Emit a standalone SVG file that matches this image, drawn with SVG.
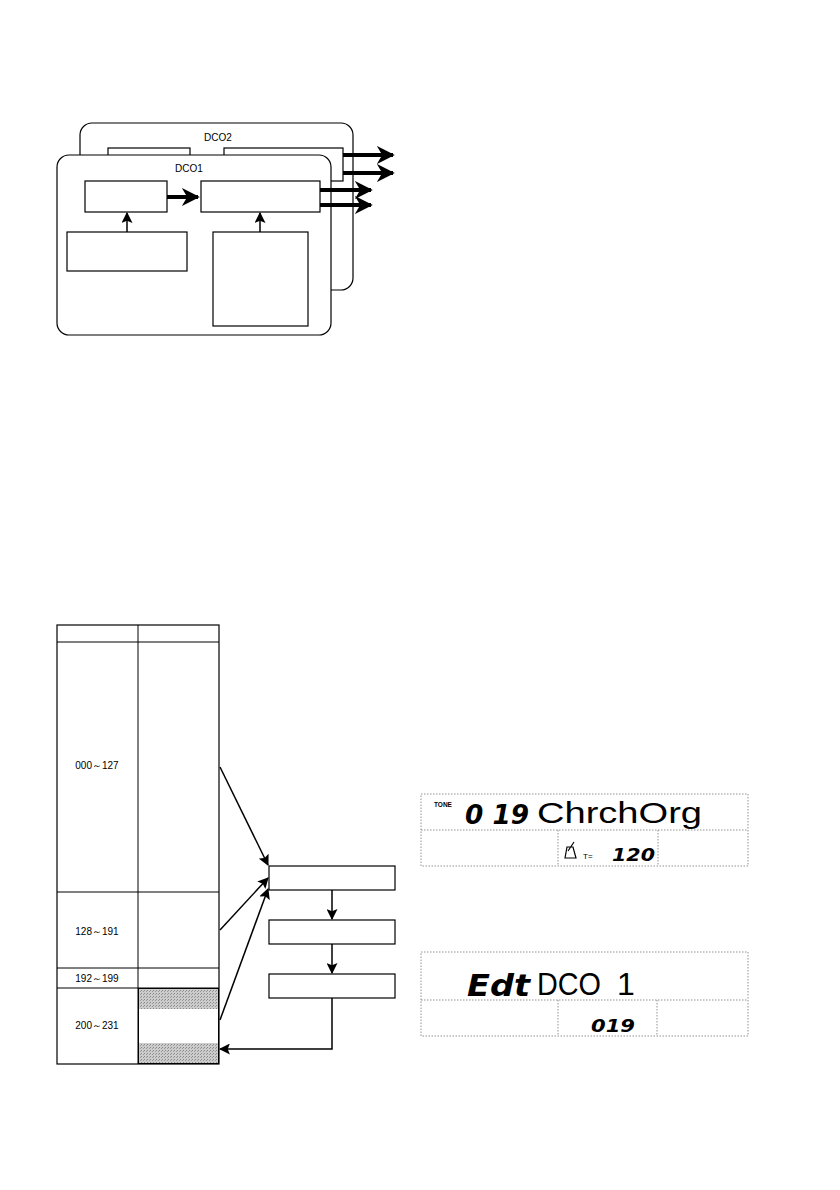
<svg xmlns="http://www.w3.org/2000/svg" width="840" height="1190" viewBox="0 0 840 1190">
<style>
.b{fill:#fff;stroke:#000;stroke-width:1.2}
.t{font-family:"Liberation Sans",Arial,sans-serif;fill:#000}
.l{stroke:#000;stroke-width:1.5;fill:none}
.k{stroke:#000;stroke-width:4;fill:none}
.d{fill:none;stroke:#777;stroke-width:0.8;stroke-dasharray:1.5 1.5}
.seg{font-family:"DejaVu Sans",sans-serif;font-weight:bold;font-style:italic;fill:#000}
.lcd{font-family:"Liberation Sans Narrow","Liberation Sans",sans-serif;fill:#000}
</style>
<defs>
<marker id="a" viewBox="0 0 10 10" refX="9" refY="5" markerWidth="11" markerHeight="11" orient="auto" markerUnits="userSpaceOnUse"><path d="M0,0L10,5L0,10L2,5z"/></marker>
<marker id="h" viewBox="0 0 10 10" refX="9" refY="5" markerWidth="4.5" markerHeight="4.5" orient="auto"><path d="M0,0L10,5L0,10L3,5z"/></marker>
<pattern id="g" width="3" height="3" patternUnits="userSpaceOnUse"><rect width="3" height="3" fill="#ccc"/><rect width="1" height="1" fill="#888"/><rect x="2" y="1" width="1" height="1" fill="#999"/></pattern>
</defs>
<rect width="840" height="1190" fill="#fff"/>
<g id="dco2">
<rect class="b" x="80" y="123" width="273" height="167" rx="12"/>
<text class="t" x="218" y="141" font-size="10" text-anchor="middle">DCO2</text>
<rect class="b" x="108" y="148" width="82" height="30"/>
<rect class="b" x="224" y="148" width="119" height="33"/>
</g>
<g id="dco1">
<rect class="b" x="57" y="155" width="274" height="180" rx="12"/>
<text class="t" x="189" y="172" font-size="10" text-anchor="middle">DCO1</text>
<rect class="b" x="85" y="181" width="82" height="31"/>
<rect class="b" x="201" y="181" width="119" height="31"/>
<rect class="b" x="67" y="232" width="120" height="39"/>
<rect class="b" x="213" y="232" width="95" height="94"/>
</g>
<g id="connectors-top">
<path class="k" d="M343 155H393" marker-end="url(#h)"/>
<path class="k" d="M343 173H393" marker-end="url(#h)"/>
<path class="k" d="M320 190H371" marker-end="url(#h)"/>
<path class="k" d="M320 205H371" marker-end="url(#h)"/>
<path class="k" d="M167 197H198" marker-end="url(#h)"/>
<path class="l" d="M127 232V213" marker-end="url(#a)"/>
<path class="l" d="M260 232V213" marker-end="url(#a)"/>
</g>
<g id="table">
<rect class="b" x="57" y="625" width="162" height="439"/>
<path class="l" style="stroke-width:1" d="M57 642H219M138 625V1064M57 892H219M57 968H219M57 988H219"/>
<rect x="138.5" y="988.5" width="80" height="75" fill="url(#g)" stroke="#000"/>
<rect x="139" y="1009" width="79" height="34" fill="#fff"/>
<text class="t" x="97" y="769" font-size="10" text-anchor="middle">000～127</text>
<text class="t" x="97" y="935" font-size="10" text-anchor="middle">128～191</text>
<text class="t" x="97" y="982" font-size="10" text-anchor="middle">192～199</text>
<text class="t" x="97" y="1029" font-size="10" text-anchor="middle">200～231</text>
</g>
<g id="box1"><rect class="b" x="269" y="866" width="126" height="24"/></g>
<g id="box2"><rect class="b" x="269" y="920" width="126" height="24"/></g>
<g id="box3"><rect class="b" x="269" y="974" width="126" height="24"/></g>
<g id="connectors">
<path class="l" d="M220 767L268 865" marker-end="url(#a)"/>
<path class="l" d="M220 930L268 878" marker-end="url(#a)"/>
<path class="l" d="M220 1020L268 889" marker-end="url(#a)"/>
<path class="l" d="M332 890V919" marker-end="url(#a)"/>
<path class="l" d="M332 944V973" marker-end="url(#a)"/>
<path class="l" d="M332 998V1049H220" marker-end="url(#a)"/>
</g>
<g id="lcd1">
<rect class="d" x="421" y="794" width="327" height="72"/>
<path class="d" d="M421 830H748M558 830V866M658 830V866"/>
<text class="t" x="434" y="807" font-size="6.5" font-weight="bold">TONE</text>
<text class="seg" x="465" y="824" font-size="26" textLength="64" lengthAdjust="spacingAndGlyphs">0 19</text>
<text class="lcd" x="537" y="823" font-size="29" textLength="165" lengthAdjust="spacingAndGlyphs">ChrchOrg</text>
<path d="M565 858L567 847H573L576 858ZM568 851L574 842M565 858H576" fill="none" stroke="#000" stroke-width="1.2"/>
<text class="t" x="583" y="859" font-size="8">T=</text>
<text class="seg" x="612" y="861" font-size="17" textLength="43" lengthAdjust="spacingAndGlyphs">120</text>
</g>
<g id="lcd2">
<rect class="d" x="421" y="952" width="327" height="84"/>
<path class="d" d="M421 1000H748M558 1000V1036M657 1000V1036"/>
<text class="seg" x="467" y="996" font-size="30" textLength="63" lengthAdjust="spacingAndGlyphs">Edt</text>
<text class="lcd" x="537" y="995" font-size="32" textLength="64" lengthAdjust="spacingAndGlyphs">DCO</text>
<text class="lcd" x="617" y="995" font-size="32">1</text>
<text class="seg" x="591" y="1032" font-size="18" textLength="44" lengthAdjust="spacingAndGlyphs">019</text>
</g>
</svg>
